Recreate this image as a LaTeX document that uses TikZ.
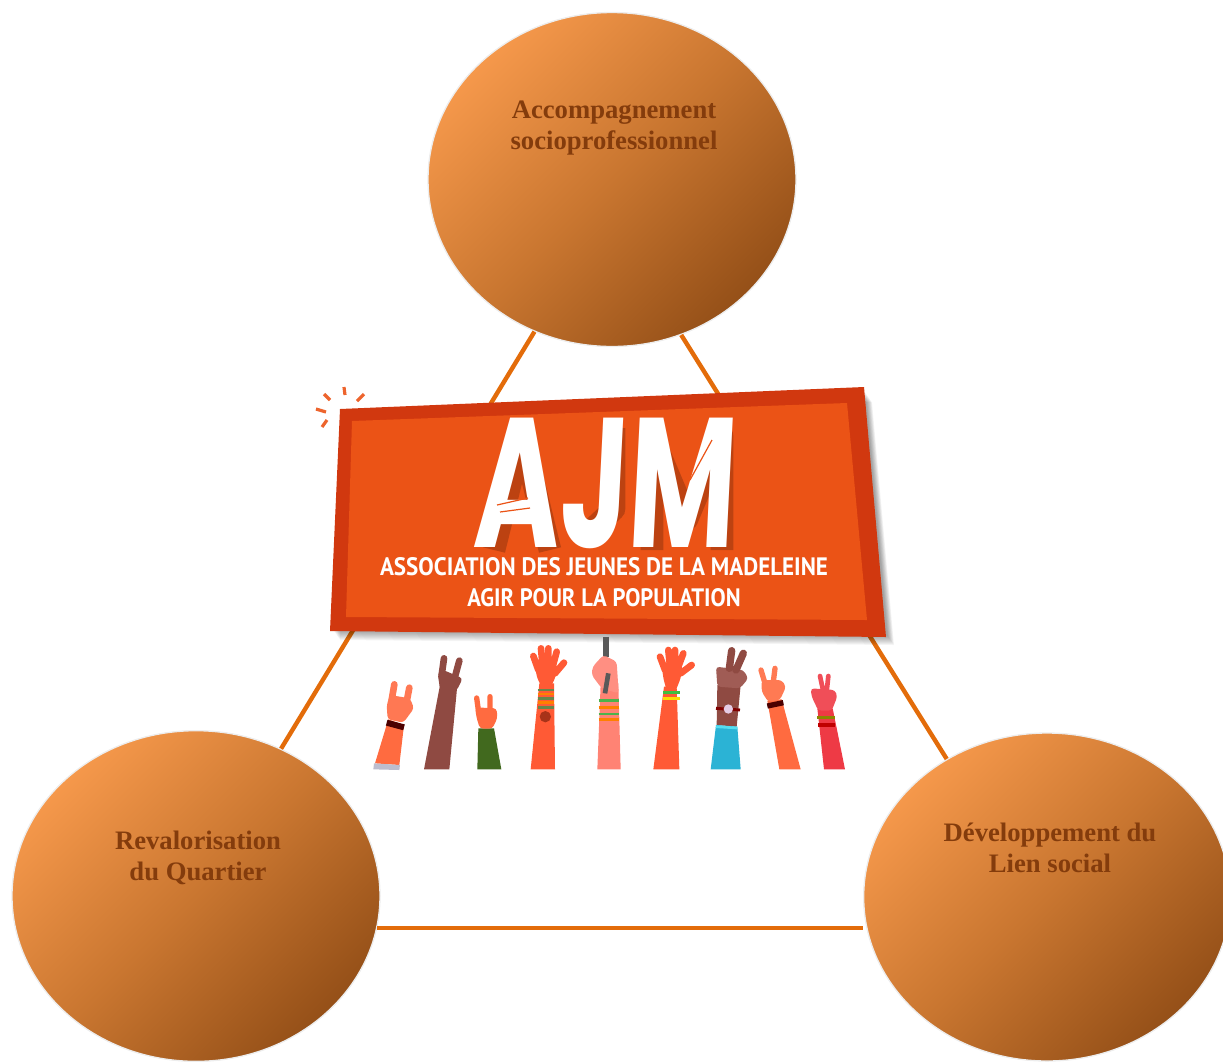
\documentclass[tikz,border=0pt]{standalone}
\usepackage{fontspec}
\usepackage{graphicx}
\setmainfont{Liberation Serif}
\newfontfamily\ajmfont{Poppins}
\newfontfamily\subfont{PT Sans}
\usetikzlibrary{shapes.geometric}
\definecolor{link}{HTML}{E36C0A}
\definecolor{labelbrown}{HTML}{843C0C}
\definecolor{signdark}{HTML}{D1380F}
\definecolor{signface}{HTML}{EB5316}
\definecolor{armred}{HTML}{FF5A35}
\definecolor{armorange}{HTML}{FF6B40}
\definecolor{armpink}{HTML}{FF8374}
\definecolor{armbrown}{HTML}{8F4A42}
\definecolor{armcrim}{HTML}{EE3A45}
\definecolor{armgreen}{HTML}{41691E}
\definecolor{armcyan}{HTML}{2BB3D5}
\definecolor{armcyanlight}{HTML}{55DDF0}
\definecolor{bubtop}{HTML}{F5984B}
\definecolor{bubmid}{HTML}{C97630}
\definecolor{bubbot}{HTML}{955018}
\tikzset{
  bubble/.style={ellipse,inner sep=0pt,draw=white!93!black,line width=1pt,
    shading=axis,top color=bubtop,bottom color=bubbot,middle color=bubmid,shading angle=45},
  bubbletext/.style={text=labelbrown,font=\fontsize{20}{23.25}\selectfont\bfseries,align=center,inner sep=0pt},
  linkline/.style={draw=link,line width=3.3pt},
  finger/.style={line cap=round,line width=5pt},
  thin finger/.style={line cap=round,line width=4pt},
  stripe/.style={line width=2pt},
  spark/.style={draw=signface!90!white,line width=2.4pt},
  palm/.style={rounded corners=2.5pt},
  letter shadow/.style={draw=black,opacity=0.2,line width=17pt,line join=round},
  scratch/.style={draw=signface,line width=0.9pt},
}
\begin{document}
\begin{tikzpicture}[x=0.75pt,y=-0.75pt]
\useasboundingbox (0,0) rectangle (1223,1061);
\clip (0,0) rectangle (1223,1061);
% bubbles
\node[bubble,minimum width=276pt,minimum height=250.5pt] (top) at (612,179.5) {};
\node[bubble,minimum width=276pt,minimum height=248pt] (left) at (196,896) {};
\node[bubble,minimum width=275pt,minimum height=246pt] (right) at (1047,897) {};
\node[bubbletext] (toplabel) at (614,128.5) {Accompagnement\\socioprofessionnel};
\node[bubbletext] (leftlabel) at (198,857.5) {Revalorisation\\du Quartier};
\node[bubbletext] (rightlabel) at (1050,847.5) {Développement du\\Lien social};
% links
\draw[linkline] (top.243.7) -- (left.60);
\draw[linkline] (top.294.4) -- (right.126.3);
\draw[linkline] (left.-10.6) -- (left.-10.6 -| right.west);
% sign shadow
\foreach \d in {1,2,3,4,5,6,7,8,9,10}{
  \fill[black,opacity=0.045] (345+0.7*\d,412+\d) -- (865+0.7*\d,392+\d) -- (887+0.7*\d,635+\d) -- (333+0.7*\d,630+\d) -- cycle;
}
% sign
\fill[signdark] (340,409) -- (864,387) -- (886,637) -- (330,631) -- cycle;
\fill[signface] (352,421) -- (847,403) -- (867,620) -- (346,617) -- cycle;
\draw[spark] (344,387) -- (345,395) (324,394) -- (330,400) (364,394) -- (357,401) (316,409) -- (326,412) (322,427) -- (327,420);
% letter shadows
\begin{scope}[shift={(4,4)}]
\draw[letter shadow] (490,546) -- (518,432) -- (546,546);
\draw[letter shadow] (610,424) -- (610,505) -- (578,535);
\draw[letter shadow] (648,546) -- (648,432) -- (683,515) -- (718,432) -- (718,546);
\end{scope}
\node[white,inner sep=0pt,xslant=0.05,transform shape,font=\ajmfont\bfseries] (ajm) at (606,483)
  {\resizebox{196pt}{97pt}{AJM}};
\draw[scratch] (497,505) -- (528,498) (500,512) -- (530,508) (690,480) -- (712,440);
\node[white,inner sep=0pt,font=\subfont\bfseries] (sub1) at (604,567)
  {\resizebox{336pt}{13.5pt}{ASSOCIATION DES JEUNES DE LA MADELEINE}};
\node[white,inner sep=0pt,font=\subfont\bfseries] (sub2) at (604,598)
  {\resizebox{205pt}{13.5pt}{AGIR POUR LA POPULATION}};
% arms (coordinates in a finer grid)
\begin{scope}[shift={(360,630)},x=0.25pt,y=-0.25pt]
% stick
\draw[line width=4pt,draw=black!65] (738,20) -- (738,80);
% arm 1
\fill[armorange] (85,268) -- (132,285) -- (118,405) -- (45,400) -- cycle;
\fill[blue!15!gray!45] (42,400) -- (120,405) -- (118,420) -- (40,418) -- cycle;
\fill[palm,armorange!85!pink] (90,195) -- (150,205) -- (162,235) -- (130,278) -- (83,268) -- (80,225) -- cycle;
\draw[finger,armorange!85!pink] (103,163) -- (95,210) (148,173) -- (140,215);
\draw[line width=4.5pt,draw=black!70!red] (80,278) -- (132,292);
% arm 2
\fill[armbrown] (240,165) -- (292,165) -- (268,418) -- (192,418) -- cycle;
\fill[palm,armbrown] (233,130) -- (250,120) -- (308,145) -- (290,182) -- (240,178) -- cycle;
\draw[finger,armbrown] (252,85) -- (245,135) (298,92) -- (285,140);
% arm 3
\fill[armgreen] (355,295) -- (402,295) -- (424,418) -- (352,418) -- cycle;
\fill[palm,armorange] (345,232) -- (410,235) -- (412,265) -- (397,296) -- (360,296) -- (350,265) -- cycle;
\draw[thin finger,armorange] (350,204) -- (355,240) (390,200) -- (390,240);
% arm 4
\fill[armred] (538,160) -- (582,160) -- (585,418) -- (512,418) -- cycle;
\fill[palm,armred] (525,100) -- (590,100) -- (587,140) -- (572,172) -- (545,172) -- (530,140) -- cycle;
\draw[finger,armred] (520,78) -- (535,120) (543,55) -- (548,110) (565,55) -- (565,110) (590,65) -- (578,110) (612,98) -- (585,130);
\draw[stripe,armgreen!80!white] (533,180) -- (582,180) (533,205) -- (582,205) (533,232) -- (582,232);
\draw[stripe,orange] (533,192) -- (582,192) (533,218) -- (582,218);
\fill[black!40!red!60!brown] (556,260) circle [radius=17];
% arm 5
\fill[armpink] (722,160) -- (775,160) -- (782,418) -- (712,418) -- cycle;
\fill[palm,armpink!90!white] (698,110) -- (730,75) -- (770,95) -- (776,190) -- (725,175) -- (695,135) -- cycle;
\draw[line width=3.5pt,draw=black!65] (745,130) -- (735,190);
\draw[stripe,green!40!gray] (716,212) -- (776,212) (716,252) -- (776,252);
\draw[stripe,orange] (716,232) -- (776,232) (716,268) -- (776,268);
% arm 6
\fill[armred] (912,170) -- (950,170) -- (958,418) -- (880,418) -- cycle;
\fill[palm,armred] (905,105) -- (968,105) -- (962,145) -- (947,182) -- (920,182) -- (910,145) -- cycle;
\draw[finger,armred] (900,80) -- (915,120) (925,60) -- (930,110) (945,60) -- (945,110) (970,70) -- (955,110) (995,105) -- (962,130);
\draw[stripe,green!50!gray] (910,188) -- (960,188);
\draw[stripe,yellow!80!orange] (908,206) -- (960,206);
% arm 7
\fill[armbrown] (1072,165) -- (1142,165) -- (1130,290) -- (1070,285) -- cycle;
\fill[palm,armbrown!85!pink] (1068,110) -- (1150,120) -- (1165,145) -- (1140,175) -- (1072,170) -- cycle;
\draw[finger,line width=5.5pt,armbrown] (1115,62) -- (1108,115) (1150,70) -- (1128,120);
\fill[armcyan] (1068,285) -- (1132,290) -- (1142,418) -- (1052,418) -- cycle;
\draw[line width=2pt,draw=armcyanlight] (1068,290) -- (1132,294);
\draw[line width=2.2pt,draw=red!50!black] (1068,235) -- (1140,240);
\fill[white!80!violet] (1105,237) circle [radius=14];
% arm 8
\fill[armorange] (1222,212) -- (1265,208) -- (1322,418) -- (1258,418) -- cycle;
\fill[palm,armorange!90!white] (1205,150) -- (1265,150) -- (1278,170) -- (1260,210) -- (1225,216) -- (1205,185) -- cycle;
\draw[thin finger,armorange!90!white] (1203,120) -- (1215,160) (1245,115) -- (1240,155);
\draw[line width=4pt,draw=black!70!red] (1222,228) -- (1270,218);
% arm 9
\fill[armcrim] (1372,235) -- (1418,235) -- (1455,418) -- (1392,418) -- cycle;
\fill[palm,armcrim!90!white] (1352,175) -- (1425,180) -- (1432,200) -- (1415,242) -- (1375,242) -- (1355,200) -- cycle;
\draw[thin finger,armcrim!90!white,line width=3.5pt] (1380,138) -- (1390,185) (1405,138) -- (1400,185);
\draw[stripe,olive] (1372,262) -- (1425,262);
\draw[line width=3pt,draw=red!75!black] (1375,285) -- (1425,285);
\end{scope}
\end{tikzpicture}
\end{document}
